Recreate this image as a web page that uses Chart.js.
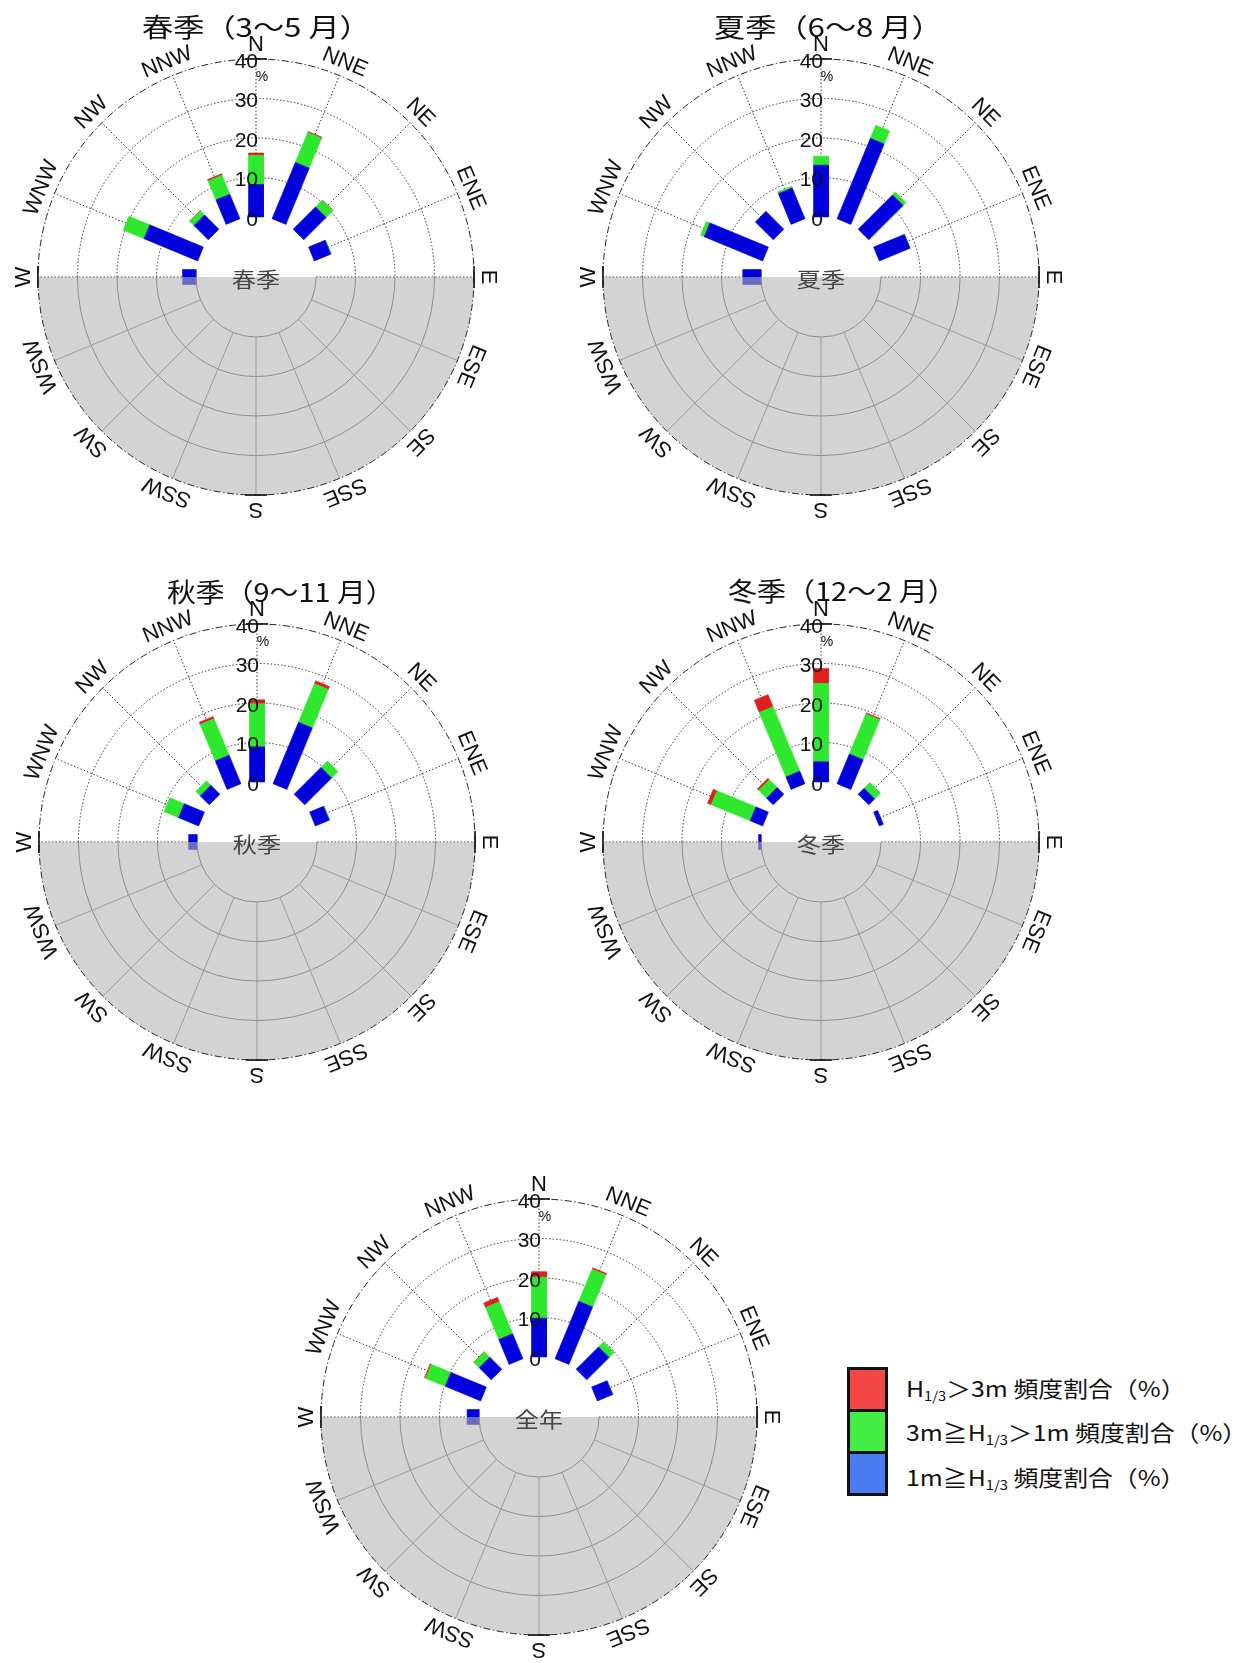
<!DOCTYPE html>
<html>
<head>
<meta charset="utf-8">
<script src="https://cdn.jsdelivr.net/npm/chart.js@4.4.1/dist/chart.umd.min.js"></script>
<style>
  body { margin: 0; width: 1236px; height: 1663px; overflow: hidden; background: #fff; position: relative; font-family: "Noto Sans CJK JP", sans-serif; }
  canvas.rose { position: absolute; }
  .title { position: absolute; font-size: 26px; line-height: 26px; white-space: pre; color: #111; transform: scaleX(1.2); transform-origin: 0 50%; z-index: 2; }
  .legend-boxes { position: absolute; left: 847px; top: 1367px; width: 35px; padding: 3px; background: #111; }
  .legend-boxes div { width: 35px; height: 39px; margin-bottom: 3px; }
  .legend-boxes div:last-child { margin-bottom: 0; }
  .legend-text { position: absolute; left: 906px; font-size: 22px; line-height: 22px; white-space: pre; color: #111; transform: scaleX(1.13); transform-origin: 0 50%; }
  .legend-text sub { font-size: 13px; vertical-align: -4px; line-height: 0; }
</style>
</head>
<body>

<div class="title" style="left:142px; top:13px;">春季（3～5 月）</div>
<div class="title" style="left:714px; top:13px;">夏季（6～8 月）</div>
<div class="title" style="left:167px; top:578px; transform:scaleX(1.11);">秋季（9～11 月）</div>
<div class="title" style="left:728px; top:577px; transform:scaleX(1.115);">冬季（12～2 月）</div>

<canvas class="rose" id="spring" width="540" height="540"></canvas>
<canvas class="rose" id="summer" width="540" height="540"></canvas>
<canvas class="rose" id="autumn" width="540" height="540"></canvas>
<canvas class="rose" id="winter" width="540" height="540"></canvas>
<canvas class="rose" id="annual" width="540" height="540"></canvas>

<div class="legend-boxes">
  <div style="background:#f44848"></div>
  <div style="background:#44ee44"></div>
  <div style="background:#4a7cf2"></div>
</div>
<div class="legend-text" style="top:1376px;">H<sub>1/3</sub>＞3m 頻度割合（%）</div>
<div class="legend-text" style="top:1420px;">3m≧H<sub>1/3</sub>＞1m 頻度割合（%）</div>
<div class="legend-text" style="top:1465px;">1m≧H<sub>1/3</sub> 頻度割合（%）</div>

<script>
// 16 compass points, clockwise from north
const directions = ["N", "NNE", "NE", "ENE", "E", "ESE", "SE", "SSE", "S", "SSW", "SW", "WSW", "W", "WNW", "NW", "NNW"];
// directions that carry bars (the sea side)
const barDirections = ["W", "WNW", "NW", "NNW", "N", "NNE", "NE", "ENE", "E"];
const ringTicks = [0, 10, 20, 30, 40];

// frequency (%) per wave height class: low = H1/3<=1m, mid = 1m<H1/3<=3m, high = H1/3>3m
const springLow  = [3.4, 14.7, 5.1, 6.7, 8.2, 15.4, 8.0, 4.5, 0];
const springMid  = [0, 5.7, 1.5, 5.2, 7.4, 8.2, 2.4, 0.2, 0];
const springHigh = [0, 0, 0.1, 0.4, 0.6, 0.3, 0.1, 0, 0];

const summerLow  = [4.6, 16.0, 6.4, 8.4, 13.1, 22.0, 12.3, 8.4, 0];
const summerMid  = [0, 1.0, 0, 0.5, 2.3, 3.6, 1.0, 0.1, 0];
const summerHigh = [0, 0, 0, 0, 0, 0, 0, 0, 0];

const autumnLow  = [2.1, 5.5, 3.2, 7.8, 8.9, 16.8, 9.6, 3.8, 0];
const autumnMid  = [0, 4.0, 1.6, 10.0, 10.9, 10.6, 2.3, 0.2, 0];
const autumnHigh = [0, 0, 0, 0.6, 1.0, 0.8, 0, 0, 0];

const winterLow  = [0.6, 3.4, 2.4, 3.4, 5.1, 8.1, 2.1, 1.1, 0];
const winterMid  = [0, 10.7, 2.8, 17.7, 19.8, 11.0, 2.1, 0, 0];
const winterHigh = [0, 1.0, 0.5, 3.3, 3.8, 0.3, 0, 0, 0];

const annualLow  = [3.0, 9.7, 4.3, 6.8, 9.8, 15.7, 8.0, 4.2, 0];
const annualMid  = [0, 5.4, 1.9, 8.8, 10.4, 8.8, 1.8, 0.1, 0];
const annualHigh = [0, 0.3, 0.1, 1.2, 1.4, 0.4, 0, 0, 0];

const HOLE = 15.2;     // empty centre, in % units
const RMAX = 40;
const UNIT = 3.95;     // px per %
const SIZE = 540;
const LIM = SIZE / 2 / UNIT;
const HALF_W = 1.9;    // half bar width, % units

const colLow = "#0000dc", colMid = "#2ee82e", colHigh = "#e0201e";

// corners of one stacked bar piece, as data coordinates
function barPiece(theta, v0, v1) {
  const a = theta * Math.PI / 180;
  const ux = Math.sin(a), uy = Math.cos(a);
  const nx = Math.cos(a), ny = -Math.sin(a);
  const r0 = HOLE + v0, r1 = HOLE + v1;
  const p = (r, s) => ({ x: r * ux + s * HALF_W * nx, y: r * uy + s * HALF_W * ny });
  return [p(r0, -1), p(r1, -1), p(r1, 1), p(r0, 1), p(r0, -1)];
}

function buildBars(low, mid, high) {
  const sets = [];
  barDirections.forEach((d, i) => {
    const theta = directions.indexOf(d) * 22.5;
    const parts = [[low[i], colLow], [mid[i], colMid], [high[i], colHigh]];
    let base = 0;
    parts.forEach(([v, c]) => {
      if (v <= 0) return;
      sets.push({
        type: "line",
        data: barPiece(theta, base, base + v),
        showLine: true,
        fill: "shape",
        backgroundColor: c,
        borderColor: c,
        borderWidth: 0.6,
        pointRadius: 0,
        tension: 0
      });
      base += v;
    });
  });
  return sets;
}

const px = (chart, r, th) => {
  const a = th * Math.PI / 180;
  return [chart.scales.x.getPixelForValue(r * Math.sin(a)), chart.scales.y.getPixelForValue(r * Math.cos(a))];
};
const pxLen = (chart, r) => chart.scales.x.getPixelForValue(r) - chart.scales.x.getPixelForValue(0);

function spoke(ctx, chart, th) {
  const [x0, y0] = px(chart, HOLE, th);
  const [x1, y1] = px(chart, HOLE + RMAX, th);
  ctx.beginPath(); ctx.moveTo(x0, y0); ctx.lineTo(x1, y1); ctx.stroke();
}

const rosePlugin = {
  id: "rose",
  beforeDatasetsDraw(chart) {
    const ctx = chart.ctx;
    const [cx, cy] = px(chart, 0, 0);
    ctx.save();
    ctx.strokeStyle = "#333";
    ctx.lineWidth = 1;
    ctx.setLineDash([1.5, 2]);
    ringTicks.slice(1, -1).forEach(v => {
      ctx.beginPath();
      ctx.arc(cx, cy, pxLen(chart, HOLE + v), Math.PI, 2 * Math.PI);
      ctx.stroke();
    });
    directions.forEach((d, i) => {
      const th = i * 22.5;
      if (th > 90 && th < 270) return;
      spoke(ctx, chart, th);
    });
    ctx.restore();
  },
  afterDatasetsDraw(chart, args, opts) {
    const ctx = chart.ctx;
    const [cx, cy] = px(chart, 0, 0);
    const R = pxLen(chart, HOLE + RMAX);
    ctx.save();
    // land side shading
    ctx.fillStyle = "rgba(180,180,180,0.59)";
    ctx.beginPath();
    ctx.moveTo(cx + R, cy);
    ctx.arc(cx, cy, R, 0, Math.PI);
    ctx.closePath();
    ctx.fill();
    // land side grid
    ctx.strokeStyle = "#8c8c8c";
    ctx.lineWidth = 1;
    ringTicks.slice(0, -1).forEach(v => {
      ctx.beginPath();
      ctx.arc(cx, cy, pxLen(chart, HOLE + v), 0, Math.PI);
      ctx.stroke();
    });
    ctx.strokeStyle = "#9a9a9a";
    directions.forEach((d, i) => {
      const th = i * 22.5;
      if (th > 90 && th < 270) spoke(ctx, chart, th);
    });
    // outer circle
    ctx.strokeStyle = "#222";
    ctx.setLineDash([7, 2.5, 1.5, 2.5]);
    ctx.beginPath();
    ctx.arc(cx, cy, R, 0, 2 * Math.PI);
    ctx.stroke();
    ctx.setLineDash([]);
    // tick marks at N, E, S, W
    ctx.lineWidth = 1.6;
    ctx.strokeStyle = "#111";
    [0, 90, 180, 270].forEach(th => {
      ctx.save();
      const [x, y] = px(chart, HOLE + RMAX, th);
      ctx.translate(x, y);
      ctx.rotate(th * Math.PI / 180);
      ctx.beginPath(); ctx.moveTo(-11, 0); ctx.lineTo(11, 0); ctx.stroke();
      ctx.restore();
    });
    // compass labels
    ctx.fillStyle = "#111";
    ctx.font = '22px "Liberation Sans"';
    ctx.textAlign = "center";
    ctx.textBaseline = "middle";
    directions.forEach((d, i) => {
      const th = i * 22.5;
      const [x, y] = px(chart, HOLE + 43.6, th);
      ctx.save();
      ctx.translate(x, y);
      ctx.rotate(th * Math.PI / 180);
      ctx.fillText(d, 0, 0);
      ctx.restore();
    });
    // ring values
    ctx.font = '21px "Liberation Sans"';
    ctx.textAlign = "right";
    ringTicks.forEach(v => {
      const [, y] = px(chart, HOLE + v, 0);
      ctx.fillText(String(v), cx + 2, y + 3);
    });
    ctx.font = '14px "Liberation Sans"';
    ctx.textAlign = "center";
    const [, y40] = px(chart, HOLE + RMAX, 0);
    ctx.fillText("%", cx + 6, y40 + 18);
    // centre label
    ctx.fillStyle = "#444";
    ctx.font = '21px "Noto Sans CJK JP"';
    ctx.translate(cx, cy + 2);
    ctx.scale(1.15, 1);
    ctx.fillText(opts.center, 0, 0);
    ctx.restore();
  }
};

function makeRose(id, cx, cy, label, low, mid, high) {
  const canvas = document.getElementById(id);
  canvas.style.left = (cx - SIZE / 2) + "px";
  canvas.style.top = (cy - SIZE / 2) + "px";
  new Chart(canvas, {
    type: "scatter",
    data: { datasets: buildBars(low, mid, high) },
    options: {
      responsive: false,
      animation: false,
      events: [],
      layout: { padding: 0 },
      scales: {
        x: { type: "linear", min: -LIM, max: LIM, display: false },
        y: { type: "linear", min: -LIM, max: LIM, display: false }
      },
      plugins: {
        legend: { display: false },
        tooltip: { enabled: false },
        rose: { center: label }
      }
    },
    plugins: [rosePlugin]
  });
}

makeRose("spring", 256, 277, "春季", springLow, springMid, springHigh);
makeRose("summer", 821, 277, "夏季", summerLow, summerMid, summerHigh);
makeRose("autumn", 257, 842, "秋季", autumnLow, autumnMid, autumnHigh);
makeRose("winter", 821, 842, "冬季", winterLow, winterMid, winterHigh);
makeRose("annual", 539, 1417, "全年", annualLow, annualMid, annualHigh);
</script>
</body>
</html>
